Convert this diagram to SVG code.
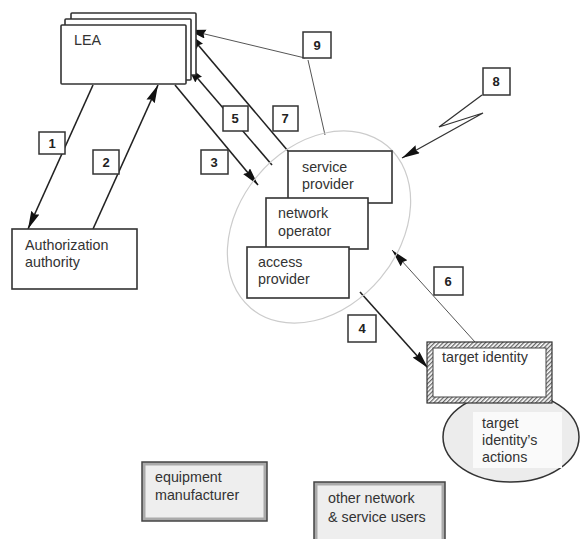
<svg xmlns="http://www.w3.org/2000/svg" width="581" height="539" viewBox="0 0 581 539">
<defs>
<marker id="ah" markerUnits="userSpaceOnUse" markerWidth="20" markerHeight="10" refX="18" refY="4.5" orient="auto">
<path d="M0,0 L18,4.5 L0,9 L2,4.5 Z" fill="#111"/>
</marker>
<pattern id="hatch" patternUnits="userSpaceOnUse" width="3" height="3" patternTransform="rotate(45)">
<rect width="3" height="3" fill="#fff"/>
<rect width="1.3" height="3" fill="#666"/>
</pattern>
<style>
.t{font-family:"Liberation Sans",Arial,sans-serif;font-size:14.3px;fill:#333}
.n{font-family:"Liberation Sans",Arial,sans-serif;font-size:13px;font-weight:bold;fill:#222;text-anchor:middle}
.box{fill:#fff;stroke:#333;stroke-width:1.6}
.lbl{fill:#fff;stroke:#333;stroke-width:1.5}
.c{stroke:#222;stroke-width:1.6;fill:none}
.m{stroke:#333;stroke-width:1.3;fill:none}
.thin{stroke:#555;stroke-width:1;fill:none}
</style>
</defs>
<rect width="581" height="539" fill="#fff"/>

<g id="connectors">
<line class="c" x1="93" y1="85" x2="28" y2="229" marker-end="url(#ah)"/>
<line class="c" x1="93" y1="229" x2="158" y2="85" marker-end="url(#ah)"/>
<line class="c" x1="175" y1="85" x2="258" y2="185" marker-end="url(#ah)"/>
<line class="c" x1="272" y1="165" x2="187" y2="66" marker-end="url(#ah)"/>
<line class="c" x1="288" y1="151" x2="188" y2="33" marker-end="url(#ah)"/>
<line class="thin" x1="305" y1="58" x2="188" y2="30" marker-end="url(#ah)"/>
<line class="thin" x1="308" y1="60" x2="325" y2="135"/>
<polyline class="m" points="482,95 439,127 483,113 402,158" marker-end="url(#ah)"/>
<line class="thin" x1="475" y1="342" x2="392" y2="250" marker-end="url(#ah)"/>
<line class="c" x1="360" y1="292" x2="428" y2="368" marker-end="url(#ah)"/>
</g>

<g id="lea">
<rect class="box" x="71" y="13" width="125" height="62" rx="1"/>
<rect class="box" x="65" y="19" width="126" height="61" rx="1"/>
<rect class="box" x="61" y="25" width="125" height="59" rx="1"/>
<text class="t" x="74" y="45">LEA</text>
</g>

<g id="authorization">
<rect class="box" x="12" y="229" width="125" height="60"/>
<text class="t" x="25" y="250">Authorization</text>
<text class="t" x="25" y="267">authority</text>
</g>

<g id="provider-group">
<ellipse cx="319" cy="227" rx="80" ry="106" transform="rotate(40 319 227)" fill="none" stroke="#ccc" stroke-width="1.2"/>
</g>

<g id="service-provider">
<rect class="box" x="288" y="151" width="104" height="52"/>
<text class="t" x="302" y="172">service</text>
<text class="t" x="302" y="189">provider</text>
</g>
<g id="network-operator">
<rect class="box" x="266" y="198" width="102" height="51"/>
<text class="t" x="278" y="218">network</text>
<text class="t" x="278" y="236">operator</text>
</g>
<g id="access-provider">
<rect class="box" x="247" y="247" width="102" height="51"/>
<text class="t" x="258" y="267">access</text>
<text class="t" x="258" y="284">provider</text>
</g>

<g id="target-actions">
<ellipse cx="511" cy="437" rx="68" ry="45" fill="#ececec" stroke="#333" stroke-width="1.5"/>
<rect x="473" y="412" width="89" height="56" fill="#fafafa"/>
<text class="t" x="482" y="428">target</text>
<text class="t" x="482" y="445">identity’s</text>
<text class="t" x="482" y="462">actions</text>
</g>

<g id="target-identity">
<rect x="430" y="345" width="119" height="55" fill="#fff" stroke="url(#hatch)" stroke-width="6"/>
<rect x="427" y="342" width="125" height="61" fill="none" stroke="#333" stroke-width="1.2"/>
<rect x="433" y="348" width="113" height="49" fill="none" stroke="#444" stroke-width="1"/>
<text class="t" x="442" y="362">target identity</text>
</g>

<g id="equipment-manufacturer">
<rect x="142" y="462" width="125" height="59" fill="#aaa" stroke="#444" stroke-width="1.5"/>
<rect x="145.5" y="465.5" width="118" height="52" fill="#eee"/>
<text class="t" x="155" y="482">equipment</text>
<text class="t" x="155" y="500">manufacturer</text>
</g>

<g id="other-users">
<rect x="314" y="482" width="131" height="70" fill="#aaa" stroke="#444" stroke-width="1.5"/>
<rect x="317.5" y="485.5" width="124" height="63" fill="#eee"/>
<text class="t" x="328" y="503">other network</text>
<text class="t" x="328" y="522">&amp; service users</text>
</g>

<g id="labels">
<g id="l1"><rect class="lbl" x="39" y="132" width="26" height="22"/><text class="n" x="52" y="148">1</text></g>
<g id="l2"><rect class="lbl" x="93" y="150" width="26" height="24"/><text class="n" x="106" y="167">2</text></g>
<g id="l3"><rect class="lbl" x="201" y="150" width="27" height="24"/><text class="n" x="214" y="167">3</text></g>
<g id="l5"><rect class="lbl" x="223" y="106" width="25" height="25"/><text class="n" x="235" y="123">5</text></g>
<g id="l7"><rect class="lbl" x="273" y="106" width="25" height="25"/><text class="n" x="285" y="123">7</text></g>
<g id="l9"><rect class="lbl" x="303" y="32" width="28" height="26"/><text class="n" x="317" y="50">9</text></g>
<g id="l8"><rect class="lbl" x="483" y="68" width="27" height="27"/><text class="n" x="496" y="86">8</text></g>
<g id="l6"><rect class="lbl" x="434" y="267" width="29" height="28"/><text class="n" x="448" y="286">6</text></g>
<g id="l4"><rect class="lbl" x="348" y="315" width="28" height="27"/><text class="n" x="362" y="333">4</text></g>
</g>
</svg>
